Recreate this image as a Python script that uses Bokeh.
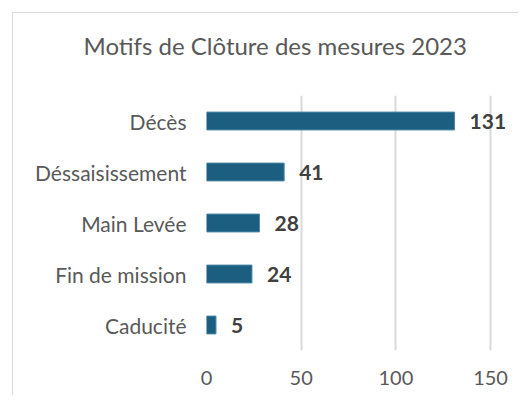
from bokeh.plotting import figure
from bokeh.models import FactorRange, Range1d, FixedTicker, ColumnDataSource, Title
from bokeh.core.properties import value
from bokeh.embed import file_html
from bokeh.resources import INLINE

categories = ["Décès", "Déssaisissement", "Main Levée", "Fin de mission", "Caducité"]
counts = [131, 41, 28, 24, 5]
x_ticks = [0, 50, 100, 150]
title_text = "Motifs de Clôture des mesures 2023"

FONT = "Lato"
src = ColumnDataSource(dict(cat=categories, val=counts, lab=[str(v) for v in counts]))

p = figure(
    width=506, height=383,
    y_range=FactorRange(*list(reversed(categories)), range_padding=0),
    x_range=Range1d(0, 160),
    output_backend="svg", toolbar_location=None,
    min_border_left=193, min_border_right=10, min_border_top=82, min_border_bottom=46,
    styles={"border-left": "1px solid #d9d9d9", "border-top": "1px solid #d9d9d9",
            "margin-left": "12px", "margin-top": "12px"},
)
p.outline_line_color = None
p.background_fill_color = "white"

# empty spacer panel between the frame and the title
spacer = Title(text=" ", text_font_size="1px", standoff=28)
p.add_layout(spacer, "above")

t = Title(text=title_text, align="left", offset=-123, text_font=FONT,
          text_font_size="24px", text_color="#595959", text_font_style="normal",
          standoff=10)
p.add_layout(t, "above")

p.hbar(y="cat", right="val", left=0, height=0.35, source=src,
       fill_color="#1B5E80", line_color="#4f87a8", line_width=1)

p.text(x="val", y="cat", text="lab", source=src, x_offset=15,
       text_baseline="middle", text_align="left",
       text_font=value(FONT), text_font_size="21px", text_font_style="bold",
       text_color="#404040")

p.xaxis.ticker = FixedTicker(ticks=x_ticks)
p.xaxis.axis_line_color = None
p.xaxis.major_tick_line_color = None
p.xaxis.minor_tick_line_color = None
p.xaxis.major_label_standoff = 14
p.xaxis.major_label_text_font = FONT
p.xaxis.major_label_text_font_size = "20px"
p.xaxis.major_label_text_color = "#595959"

p.yaxis.axis_line_color = None
p.yaxis.major_tick_line_color = None
p.yaxis.major_label_standoff = 14
p.yaxis.major_label_text_font = FONT
p.yaxis.major_label_text_font_size = "21px"
p.yaxis.major_label_text_color = "#595959"

p.xgrid.ticker = FixedTicker(ticks=x_ticks)
p.xgrid.grid_line_color = "#d9d9d9"
p.xgrid.grid_line_width = 2
p.ygrid.grid_line_color = None

open("out.html", "w").write(file_html(p, INLINE))
